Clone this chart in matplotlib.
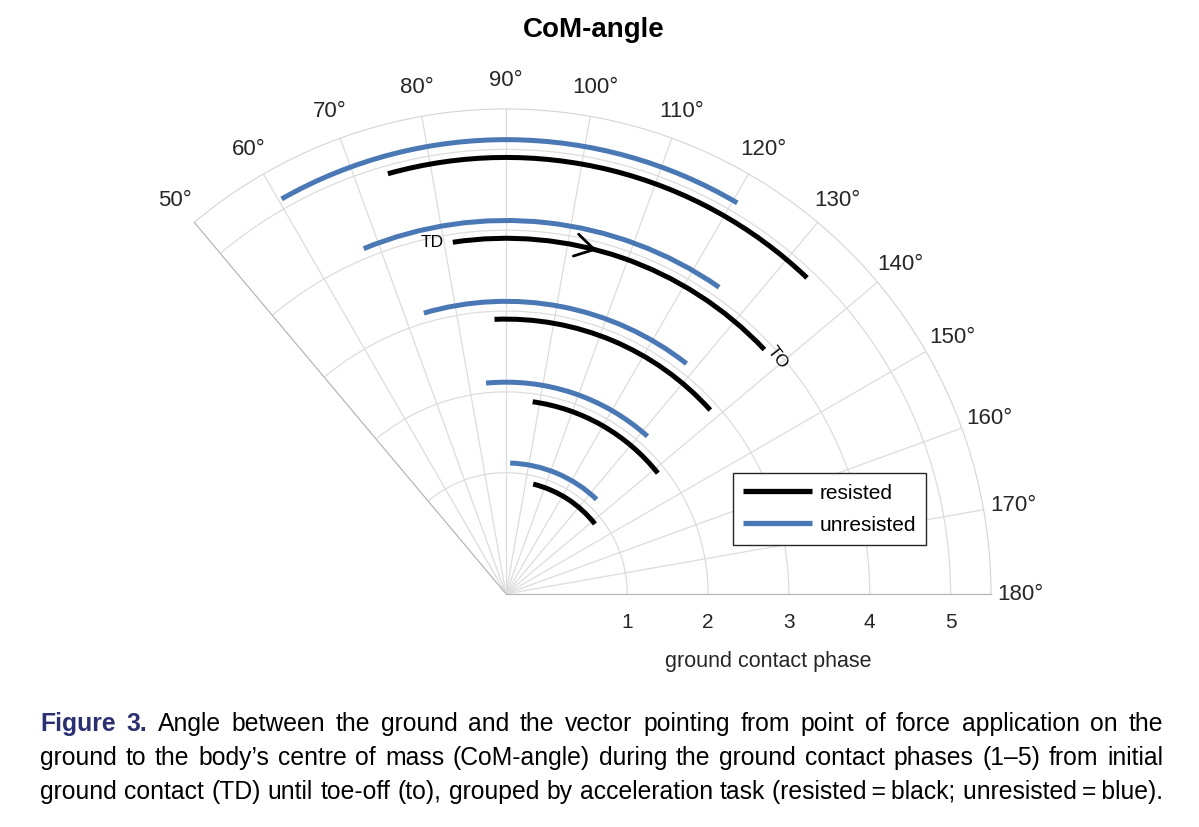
import numpy as np
import matplotlib
matplotlib.use('Agg')
import matplotlib.pyplot as plt
from matplotlib.lines import Line2D

# ground contact phases and CoM-angle (deg) at touch-down / toe-off
phases = np.array([1, 2, 3, 4, 5])
resisted_td = np.array([103.9, 97.9, 87.6, 81.4, 74.3])
resisted_to = np.array([141.8, 141.5, 138.0, 136.6, 133.6])
unresisted_td = np.array([91.8, 84.6, 73.7, 67.6, 60.4])
unresisted_to = np.array([133.8, 131.9, 128.1, 124.8, 120.6])

theta_ticks = list(range(50, 181, 10))
r_ticks = [1, 2, 3, 4, 5]

cap_lines = [
    "Figure 3. Angle between the ground and the vector pointing from point of force application on the",
    "ground to the body\u2019s centre of mass (CoM-angle) during the ground contact phases (1\u20135) from initial",
    "ground contact (TD) until toe-off (to), grouped by acceleration task (resisted\u2009=\u2009black; unresisted\u2009=\u2009blue).",
]

plt.rcParams['font.family'] = ['Liberation Sans', 'DejaVu Sans']
grey_txt = '#262626'
blue = '#4a78b4'

W, H = 1199, 828
fig = plt.figure(figsize=(W / 100, H / 100), dpi=100)

# polar wedge: origin at (506, 591) px, outer radius 485 px
# (polar axes keep a square box, the wedge is fitted in it and centred)
R = 485
ox, oy = 506, 591
left = ox - R * np.cos(np.deg2rad(50))
side = ox + R - left
cy = oy - R / 2
ax = fig.add_axes([left / W, (H - (cy + side / 2)) / H, side / W, side / H], projection='polar')
ax.set_theta_zero_location('W')
ax.set_theta_direction(-1)
ax.set_thetamin(50)
ax.set_thetamax(180)
ax.set_rlim(-0.5, 5.5)
ax.set_axisbelow(True)

ax.set_thetagrids(theta_ticks, labels=[f"{t}\u00b0" for t in theta_ticks], fontsize=16, color=grey_txt)
ax.set_yticks(r_ticks)
ax.set_yticklabels([])
ax.tick_params(axis='x', pad=11)
ax.grid(color='#dcdcdc', lw=0.9)
ax.spines['polar'].set_color('#d4d4d4')
ax.spines['start'].set_color('#b4b4b4')
ax.spines['end'].set_color('#b4b4b4')
ax.spines['inner'].set_visible(False)

# arcs drawn as thin polar bars
thick = 0.062
ax.bar(np.deg2rad((unresisted_td + unresisted_to) / 2), thick,
       width=np.deg2rad(unresisted_to - unresisted_td), bottom=phases + 0.12 - thick / 2,
       color=blue, linewidth=0, zorder=3)
ax.bar(np.deg2rad((resisted_td + resisted_to) / 2), thick,
       width=np.deg2rad(resisted_to - resisted_td), bottom=phases - 0.1 - thick / 2,
       color='black', linewidth=0, zorder=3)

# direction arrow and TD / TO marks on phase 4
ax.annotate('', xy=(np.deg2rad(104.8), 3.9), xytext=(np.deg2rad(102.0), 3.9),
            arrowprops=dict(arrowstyle='->,head_length=0.75,head_width=0.45', color='black',
                            lw=2, mutation_scale=18, shrinkA=0, shrinkB=0), zorder=4)
ax.text(np.deg2rad(78.1), 3.95, 'TD', ha='center', va='center', fontsize=12.5)
ax.text(np.deg2rad(138.8), 3.96, 'TO', ha='center', va='center', fontsize=12.5, rotation=-52)

# radial labels under the 180 deg edge
for r in r_ticks:
    ax.annotate(str(r), xy=(np.pi, r), xytext=(0, -20), textcoords='offset points',
                ha='center', va='center', fontsize=15, color=grey_txt, annotation_clip=False)

fig.text(768 / W, 1 - 662 / H, 'ground contact phase', ha='center', va='center',
         fontsize=15.5, color=grey_txt)
fig.text(594 / W, 1 - 30 / H, 'CoM-angle', ha='center', va='center', fontsize=20,
         fontweight='bold')

handles = [Line2D([], [], color='black', lw=3.8, solid_capstyle='butt'),
           Line2D([], [], color=blue, lw=3.8, solid_capstyle='butt')]
leg = fig.legend(handles, ['resisted', 'unresisted'], loc='upper left',
                 bbox_to_anchor=(733 / W, 1 - 474 / H), fancybox=False, framealpha=1,
                 edgecolor=grey_txt, fontsize=15, handlelength=3.3, handletextpad=0.35,
                 borderpad=0.5, labelspacing=0.62, borderaxespad=0)
leg.get_frame().set_linewidth(1.0)

# justified caption, font size fitted to the longest line
fig.canvas.draw()
renderer = fig.canvas.get_renderer()
cap_x0, cap_x1 = 40, 1163
cap_base = [731, 765, 799]


def word_texts(size):
    rows = []
    for li, line in enumerate(cap_lines):
        row = []
        for wi, w in enumerate(line.split(' ')):
            head = li == 0 and wi < 2
            row.append(fig.text(0, 1 - cap_base[li] / H, w, va='baseline', ha='left',
                                fontsize=size, color='#2b3170' if head else 'black',
                                fontweight='bold' if head else 'normal'))
        rows.append(row)
    return rows


probe_a = fig.text(0, 0, 'a b', fontsize=19)
probe_b = fig.text(0, 0, 'ab', fontsize=19)
space = probe_a.get_window_extent(renderer).width - probe_b.get_window_extent(renderer).width
probe_a.remove()
probe_b.remove()
rows = word_texts(19)
natural = max(sum(t.get_window_extent(renderer).width for t in row) + space * (len(row) - 1)
              for row in rows)
for row in rows:
    for t in row:
        t.remove()
size = 19 * (cap_x1 - cap_x0) / natural

rows = word_texts(size)
for row in rows:
    widths = [t.get_window_extent(renderer).width for t in row]
    gap = (cap_x1 - cap_x0 - sum(widths)) / (len(row) - 1)
    x = cap_x0
    for t, w in zip(row, widths):
        t.set_x(x / W)
        x += w + gap

fig.savefig('out.png', dpi=100)
